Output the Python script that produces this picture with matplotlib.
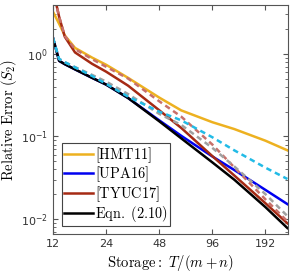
import matplotlib
matplotlib.use('Agg')
from matplotlib import pyplot as plt
from matplotlib.ticker import FixedLocator, NullLocator, LogLocator, LogFormatterSciNotation

# storage values T/(m+n)
storage = [12, 13, 14, 16, 20, 24, 32, 48, 64, 96, 128, 192, 256]

# solid lines (in legend)
hmt11 = [3.23, 2.31, 1.67, 1.18, 0.90, 0.738, 0.512, 0.296, 0.207, 0.149, 0.123, 0.089, 0.068]
upa16 = [1.56, 0.823, 0.750, 0.649, 0.512, 0.425, 0.292, 0.157, 0.102, 0.0574, 0.0393, 0.0226, 0.0152]
tyuc17 = [6.0, 2.81, 1.61, 1.04, 0.757, 0.609, 0.412, 0.208, 0.127, 0.058, 0.0337, 0.0156, 0.0089]
eqn210 = [1.56, 0.823, 0.750, 0.649, 0.512, 0.425, 0.292, 0.153, 0.095, 0.0487, 0.0300, 0.0140, 0.0078]

# dashed lines (not in legend)
cyan_dash = [1.56, 0.868, 0.793, 0.686, 0.540, 0.434, 0.303, 0.200, 0.157, 0.098, 0.068, 0.042, 0.0306]
gray_dash = [1.56, 0.868, 0.793, 0.691, 0.556, 0.462, 0.326, 0.188, 0.138, 0.0730, 0.0434, 0.0201, 0.0109]
rose_dash = [6.0, 2.81, 1.65, 1.14, 0.863, 0.698, 0.502, 0.267, 0.174, 0.080, 0.0423, 0.0174, 0.0094]

xticks = [12, 24, 48, 96, 192]

fig = plt.figure(figsize=(2.96, 2.77), dpi=100)
ax = fig.add_axes([0.179, 0.155, 0.794, 0.827])

lw = 1.8
ax.plot(storage, hmt11, color='#EDB120', lw=lw, label=r'$\mathrm{[HMT11]}$')
ax.plot(storage, upa16, color='#0000F0', lw=lw, label=r'$\mathrm{[UPA16]}$')
ax.plot(storage, tyuc17, color='#A52A14', lw=lw, label=r'$\mathrm{[TYUC17]}$')
ax.plot(storage, eqn210, color='black', lw=lw, label=r'$\mathrm{Eqn.\ (2.10)}$')

ax.plot(storage, rose_dash, color='#C8706A', lw=lw, dashes=(2.2, 1.6))
ax.plot(storage, gray_dash, color='#A0A0A0', lw=lw, dashes=(2.2, 1.6))
ax.plot(storage, cyan_dash, color='#22BBE6', lw=lw, dashes=(2.2, 1.6))

ax.set_xscale('log', base=2)
ax.set_yscale('log')
ax.set_xlim(12, 258)
ax.set_ylim(0.0066, 3.9)

ax.xaxis.set_major_locator(FixedLocator(xticks))
ax.xaxis.set_minor_locator(NullLocator())
ax.set_xticklabels([str(t) for t in xticks])
ax.yaxis.set_major_locator(LogLocator(base=10))
ax.yaxis.set_minor_locator(LogLocator(base=10, subs=range(2, 10)))
ax.yaxis.set_major_formatter(LogFormatterSciNotation())

ax.tick_params(which='both', direction='in', top=True, right=True, labelsize=8,
               color='#555555', labelcolor='#333333')
ax.tick_params(which='major', length=3.5)
ax.tick_params(which='minor', length=2)
for s in ax.spines.values():
    s.set_color('#555555')
    s.set_linewidth(0.8)

xl = ax.set_xlabel(r'$\mathrm{Storage:}\ T/(m+n)$', fontsize=10.5, labelpad=3)
yl = ax.set_ylabel(r'$\mathrm{Relative\ Error}\ (S_2)$', fontsize=10.5)
ax.yaxis.set_label_coords(-0.145, 0.5)
xl.set_math_fontfamily('cm')
yl.set_math_fontfamily('cm')

leg = ax.legend(loc='lower left', bbox_to_anchor=(0.038, 0.035), fontsize=10.3,
                fancybox=False, framealpha=1, edgecolor='#444444',
                handlelength=2.0, handletextpad=0.15, borderpad=0.15,
                labelspacing=0.0, borderaxespad=0)
leg.get_frame().set_linewidth(0.8)
for t in leg.get_texts():
    t.set_math_fontfamily('cm')

plt.savefig('out.png', dpi=100)
